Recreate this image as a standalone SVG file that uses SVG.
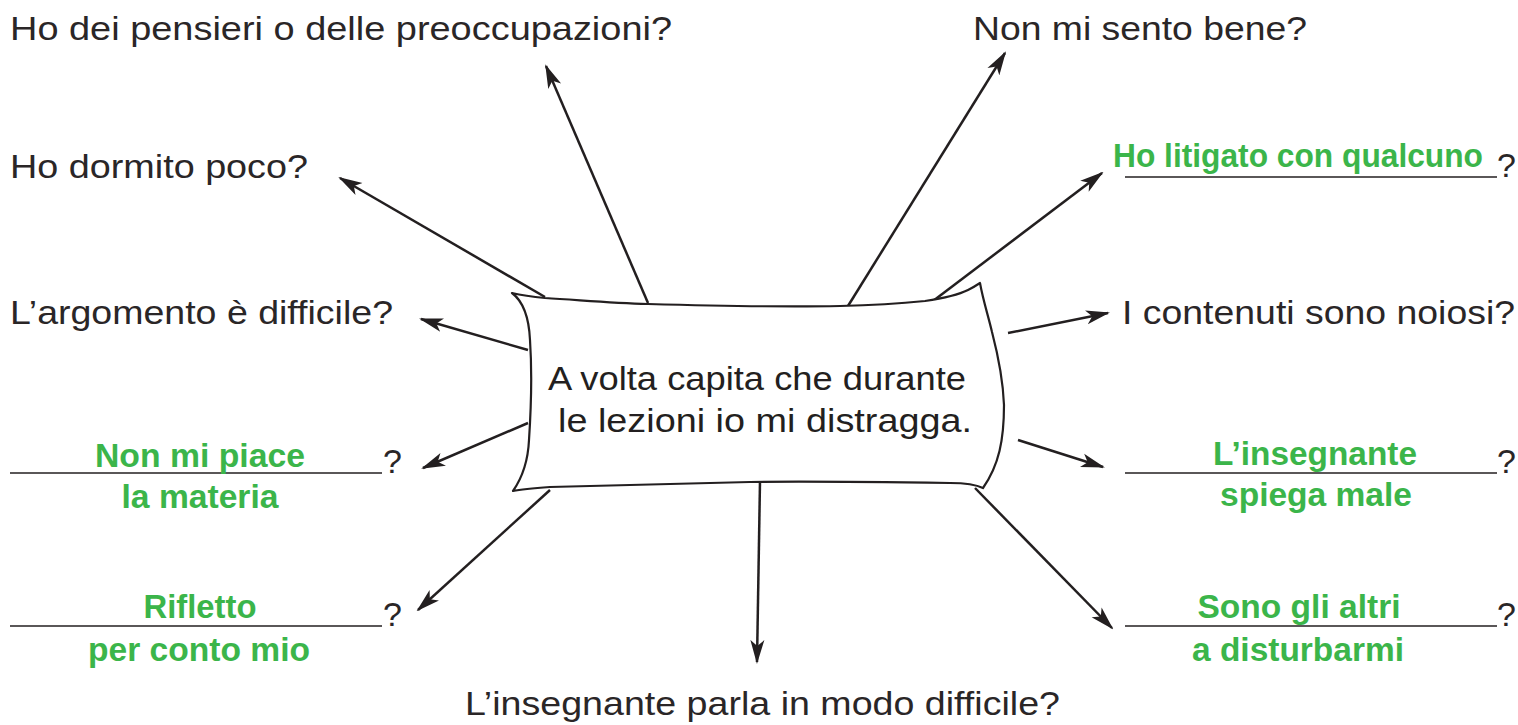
<svg xmlns="http://www.w3.org/2000/svg" width="1518" height="725" viewBox="0 0 1518 725">
<style>
.q{font-family:"Liberation Sans",Arial,sans-serif;font-size:34px;fill:#2a2627;}
.g{font-family:"Liberation Sans",Arial,sans-serif;font-size:33px;font-weight:bold;fill:#3bb54a;text-anchor:middle;}
.c{font-family:"Liberation Sans",Arial,sans-serif;font-size:33px;fill:#231f20;}
.ln{stroke:#231f20;stroke-width:1.6;fill:none;}
.ar{stroke:#231f20;stroke-width:2.5;fill:none;marker-end:url(#ah);}
</style>
<defs>
<marker id="ah" markerUnits="userSpaceOnUse" markerWidth="24" markerHeight="16" refX="22" refY="7" orient="auto" viewBox="0 0 24 14">
<path d="M0,0 L24,7 L0,14 L6,7 z" fill="#231f20"/>
</marker>
</defs>
<rect width="1518" height="725" fill="#ffffff"/>
<g id="connectors">
<line class="ar" x1="648" y1="303" x2="546" y2="66"/>
<line class="ar" x1="545" y1="297" x2="340" y2="178"/>
<line class="ar" x1="848" y1="306" x2="1005" y2="53"/>
<line class="ar" x1="933" y1="301" x2="1102" y2="173"/>
<line class="ar" x1="528" y1="350" x2="421" y2="319"/>
<line class="ar" x1="1008" y1="333" x2="1108" y2="313"/>
<line class="ar" x1="528" y1="423" x2="423" y2="468"/>
<line class="ar" x1="1018" y1="440" x2="1103" y2="467"/>
<line class="ar" x1="550" y1="490" x2="418" y2="610"/>
<line class="ar" x1="975" y1="488" x2="1112" y2="628"/>
<line class="ar" x1="760" y1="481" x2="757" y2="662"/>
</g>
<g id="center">
<path d="M512,293 C525,296 535,297 545,298 C580,300 610,303 648,304 C720,306 790,307 840,306 C880,305 905,303 925,301 C945,298 960,294 968,290 C974,287 977,285 980,283 C983,300 988,315 992,332 C998,355 1003,380 1004,405 C1004,440 999,465 983,488 C975,484 965,483 950,483 C880,482 810,481 750,482 C680,484 610,486 550,487 C535,488 522,489 513,491 C522,478 528,462 529,440 C531,410 532,370 530,340 C529,318 524,302 512,293 Z" fill="#ffffff" stroke="#231f20" stroke-width="2.2" stroke-linejoin="round"/>
<text class="c" x="548" y="390" textLength="418" lengthAdjust="spacingAndGlyphs">A volta capita che durante</text>
<text class="c" x="558" y="432" textLength="414" lengthAdjust="spacingAndGlyphs">le lezioni io mi distragga.</text>
</g>
<g id="n-pensieri"><text class="q" x="10" y="40" textLength="662" lengthAdjust="spacingAndGlyphs">Ho dei pensieri o delle preoccupazioni?</text></g>
<g id="n-sento"><text class="q" x="973" y="40" textLength="334" lengthAdjust="spacingAndGlyphs">Non mi sento bene?</text></g>
<g id="n-dormito"><text class="q" x="10" y="178" textLength="298" lengthAdjust="spacingAndGlyphs">Ho dormito poco?</text></g>
<g id="n-argomento"><text class="q" x="10" y="324" textLength="383" lengthAdjust="spacingAndGlyphs">L’argomento è difficile?</text></g>
<g id="n-contenuti"><text class="q" x="1122" y="324" textLength="393" lengthAdjust="spacingAndGlyphs">I contenuti sono noiosi?</text></g>
<g id="n-parla"><text class="q" x="465" y="715" textLength="595" lengthAdjust="spacingAndGlyphs">L’insegnante parla in modo difficile?</text></g>
<g id="n-litigato">
<line class="ln" x1="1125" y1="177" x2="1497" y2="177"/>
<text class="q" x="1497" y="177">?</text>
<text class="g" x="1298" y="167" textLength="370" lengthAdjust="spacingAndGlyphs">Ho litigato con qualcuno</text>
</g>
<g id="n-piace">
<line class="ln" x1="10" y1="473" x2="382" y2="473"/>
<text class="q" x="383" y="473">?</text>
<text class="g" x="200" y="467" textLength="210" lengthAdjust="spacingAndGlyphs">Non mi piace</text>
<text class="g" x="200" y="508" textLength="157" lengthAdjust="spacingAndGlyphs">la materia</text>
</g>
<g id="n-rifletto">
<line class="ln" x1="10" y1="626" x2="382" y2="626"/>
<text class="q" x="383" y="626">?</text>
<text class="g" x="200" y="618" textLength="113" lengthAdjust="spacingAndGlyphs">Rifletto</text>
<text class="g" x="199" y="661" textLength="222" lengthAdjust="spacingAndGlyphs">per conto mio</text>
</g>
<g id="n-spiega">
<line class="ln" x1="1125" y1="473" x2="1497" y2="473"/>
<text class="q" x="1497" y="473">?</text>
<text class="g" x="1315" y="465" textLength="204" lengthAdjust="spacingAndGlyphs">L’insegnante</text>
<text class="g" x="1316" y="506" textLength="192" lengthAdjust="spacingAndGlyphs">spiega male</text>
</g>
<g id="n-altri">
<line class="ln" x1="1125" y1="626" x2="1497" y2="626"/>
<text class="q" x="1497" y="626">?</text>
<text class="g" x="1299" y="618" textLength="203" lengthAdjust="spacingAndGlyphs">Sono gli altri</text>
<text class="g" x="1298" y="661" textLength="212" lengthAdjust="spacingAndGlyphs">a disturbarmi</text>
</g>
</svg>
